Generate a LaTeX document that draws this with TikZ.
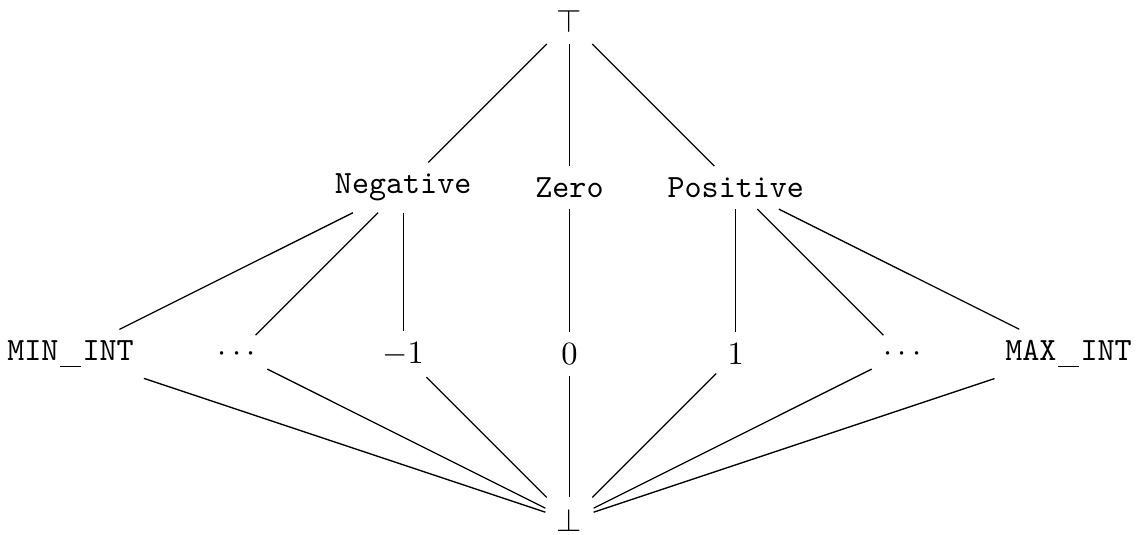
\documentclass[tikz,border=0pt]{standalone}
\newcommand\usc{\kern0.62pt\rule[-1.9pt]{6.2pt}{0.4pt}\kern0.62pt}
\begin{document}
\begin{tikzpicture}[x=1.8cm,y=1.8cm, lbl/.style={font=\ttfamily}, edge/.style={draw=black, line width=0.4pt}]
\useasboundingbox (-6.163cm,-0.155cm) rectangle (6.163cm,5.63cm);
\node (top) at (0,3) {$\top$};
\node[lbl] (neg) at (-1,2) {Negative};
\node[lbl] (zero) at (0,2) {Zero};
\node[lbl] (pos) at (1,2) {Positive};
\node[lbl] (min) at (-3,1) {MIN\usc INT};
\node (ldots) at (-2,1) {$\cdots$};
\node (m1) at (-1,1) {$-1$};
\node (z) at (0,1) {$0$};
\node (p1) at (1,1) {$1$};
\node (rdots) at (2,1) {$\cdots$};
\node[lbl] (max) at (3,1) {MAX\usc INT};
\node (bot) at (0,0) {$\bot$};
\draw[edge] (top) -- (neg);
\draw[edge] (top) -- (zero);
\draw[edge] (top) -- (pos);
\draw[edge] (neg) -- (min);
\draw[edge] (neg) -- (ldots);
\draw[edge] (neg) -- (m1);
\draw[edge] (zero) -- (z);
\draw[edge] (pos) -- (p1);
\draw[edge] (pos) -- (rdots);
\draw[edge] (pos) -- (max);
\foreach \n in {min,ldots,m1,z,p1,rdots,max} \draw[edge] (\n) -- (bot);
\end{tikzpicture}
\end{document}
